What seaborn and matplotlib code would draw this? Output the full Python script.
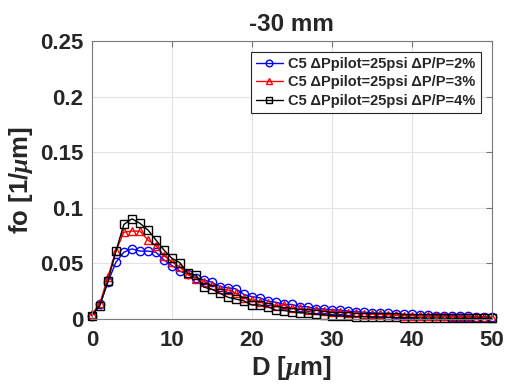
import numpy as np
import pandas as pd
import matplotlib
matplotlib.use("Agg")
import matplotlib.pyplot as plt
import seaborn as sns

# Droplet diameter grid [um]
diameter = list(range(0, 51))

# Number-based size distribution fo [1/um] for each pressure drop ratio
fo_dp2 = [0.003, 0.013, 0.033, 0.051, 0.060, 0.063, 0.061, 0.061, 0.060, 0.053,
          0.048, 0.043, 0.040, 0.037, 0.035, 0.033, 0.029, 0.028, 0.027, 0.022,
          0.020, 0.019, 0.016, 0.015, 0.013, 0.013, 0.011, 0.011, 0.009, 0.009,
          0.008, 0.008, 0.007, 0.0065, 0.006, 0.0055, 0.005, 0.005, 0.0045, 0.004,
          0.004, 0.0035, 0.0035, 0.003, 0.003, 0.003, 0.0025, 0.0025, 0.002, 0.002,
          0.0015]
fo_dp3 = [0.004, 0.014, 0.038, 0.061, 0.078, 0.079, 0.079, 0.071, 0.066, 0.057,
          0.0515, 0.0465, 0.040, 0.036, 0.0335, 0.0305, 0.027, 0.026, 0.023, 0.019,
          0.017, 0.0155, 0.014, 0.012, 0.0125, 0.0098, 0.0095, 0.0082, 0.008, 0.0075,
          0.0066, 0.0065, 0.0057, 0.0052, 0.0048, 0.0042, 0.004, 0.0037, 0.0033, 0.003,
          0.0028, 0.0026, 0.0024, 0.0023, 0.0022, 0.002, 0.0018, 0.0016, 0.0015, 0.0013,
          0.0012]
fo_dp4 = [0.003, 0.012, 0.034, 0.061, 0.085, 0.090, 0.086, 0.080, 0.071, 0.062,
          0.0545, 0.0505, 0.041, 0.0395, 0.0285, 0.0267, 0.023, 0.0195, 0.0178, 0.0162,
          0.0125, 0.0125, 0.011, 0.0078, 0.0075, 0.0066, 0.0055, 0.0052, 0.004, 0.0038,
          0.003, 0.0028, 0.0022, 0.0021, 0.002, 0.0019, 0.0017, 0.0015, 0.0013, 0.0012,
          0.001, 0.0009, 0.0008, 0.0008, 0.0007, 0.0006, 0.0006, 0.0005, 0.0005, 0.0004,
          0.0004]

labels = ["C5 \u0394Ppilot=25psi \u0394P/P=2%",
          "C5 \u0394Ppilot=25psi \u0394P/P=3%",
          "C5 \u0394Ppilot=25psi \u0394P/P=4%"]
colors = ["#0000ff", "#ff0000", "#000000"]
markers = ["o", "^", "s"]

x_ticks = [0, 10, 20, 30, 40, 50]
y_ticks = [0, 0.05, 0.1, 0.15, 0.2, 0.25]
y_tick_labels = ["0", "0.05", "0.1", "0.15", "0.2", "0.25"]

sns.set_style("white")
plt.rcParams["font.family"] = ["Liberation Sans", "DejaVu Sans"]
plt.rcParams["font.weight"] = "bold"
plt.rcParams["mathtext.fontset"] = "custom"
plt.rcParams["mathtext.it"] = "Liberation Serif:italic"
plt.rcParams["mathtext.rm"] = "Liberation Sans:bold"
plt.rcParams["mathtext.bf"] = "Liberation Sans:bold"

fig = plt.figure(figsize=(5.05, 3.87), dpi=100)
ax = fig.add_axes([0.182, 0.176, 0.792, 0.718])

for vals, lab, col, mk in zip([fo_dp2, fo_dp3, fo_dp4], labels, colors, markers):
    df = pd.DataFrame({"D": diameter, "fo": vals})
    sns.lineplot(data=df, x="D", y="fo", ax=ax, color=col, lw=1.0,
                 marker=mk, markersize=6 if mk != "s" else 5.5,
                 markerfacecolor="none", markeredgecolor=col,
                 markeredgewidth=1.0, label=lab, clip_on=False)

ax.set_xlim(0, 50)
ax.set_ylim(0, 0.25)
ax.set_xticks(x_ticks)
ax.set_yticks(y_ticks)
ax.set_yticklabels(y_tick_labels)
ax.grid(True, color="#e3e3e3", lw=0.8)
ax.set_axisbelow(True)

for sp in ax.spines.values():
    sp.set_color("#7a7a7a")
    sp.set_linewidth(0.8)
ax.tick_params(direction="in", length=4, width=0.8, color="#7a7a7a",
               top=True, right=True, labelsize=16, labelcolor="#262626")
ax.tick_params(axis="x", pad=8)
ax.tick_params(axis="y", pad=6)
for t in ax.get_xticklabels() + ax.get_yticklabels():
    t.set_fontweight("bold")

ax.set_xlabel(r"D [$\mu$m]", fontsize=18.5, fontweight="bold", color="#262626", labelpad=2)
ax.set_ylabel(r"fo [1/$\mu$m]", fontsize=18.5, fontweight="bold", color="#262626", labelpad=4)
ax.set_title("-30 mm", fontsize=17.5, fontweight="bold", pad=7)

leg = ax.legend(loc="upper right", fontsize=10.5, frameon=True, fancybox=False,
                handlelength=1.8, handletextpad=0.4, labelspacing=0.3,
                borderaxespad=0.75, borderpad=0.35, markerscale=0.8)
leg.get_frame().set_edgecolor("#262626")
leg.get_frame().set_linewidth(0.8)
leg.get_frame().set_alpha(1)
for t in leg.get_texts():
    t.set_fontweight("bold")

fig.savefig("out.png", dpi=100)
